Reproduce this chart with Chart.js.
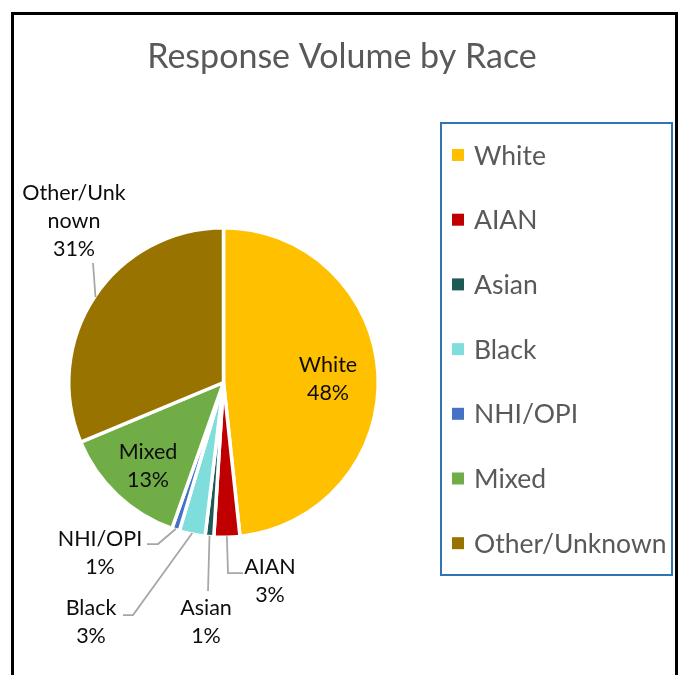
<!DOCTYPE html>
<html>
<head>
<meta charset="utf-8">
<script src="https://cdn.jsdelivr.net/npm/chart.js@4.4.1/dist/chart.umd.min.js"></script>
<style>
  html, body { margin: 0; padding: 0; background: #ffffff; }
  #wrap { width: 679px; height: 675px; }
</style>
</head>
<body>
<div id="wrap"><canvas id="c" width="679" height="675"></canvas></div>
<script>
// ---- data ----
const categories = ["White", "AIAN", "Asian", "Black", "NHI/OPI", "Mixed", "Other/Unknown"];
const shares = [48.3, 2.7, 0.9, 2.7, 0.8, 13.3, 31.3];
const sliceColors = ["#FFC000", "#C00000", "#1D5A55", "#7FDEDC", "#4472C4", "#70AD47", "#997300"];
const labelText = ["White", "AIAN", "Asian", "Black", "NHI/OPI", "Mixed", "Other/Unk\nnown"];
const chartTitle = "Response Volume by Race";

// ---- styling / layout ----
const FONT = "Lato, 'Open Sans', sans-serif";
const labelLayout = [
  { x: 328, y: 365 },                                   // White (inside)
  { x: 270, y: 567, leader: [[228, 573], [243, 573]] }, // AIAN
  { x: 206, y: 608, leader: [[208, 591]] },             // Asian
  { x: 91,  y: 608, leader: [[133, 615], [123, 615]] }, // Black
  { x: 100, y: 539, leader: [[158, 544], [147, 544]] }, // NHI/OPI
  { x: 148, y: 452 },                                   // Mixed (inside)
  { x: 74,  y: 193, leader: [[93, 263]] }               // Other/Unknown
];

const framePlugin = {
  id: 'frame',
  beforeDraw(chart) {
    const ctx = chart.ctx;
    ctx.save();
    ctx.fillStyle = '#ffffff';
    ctx.fillRect(0, 0, chart.width, chart.height);
    ctx.strokeStyle = '#000000';
    ctx.lineWidth = 3;
    ctx.beginPath();
    ctx.moveTo(12.5, 680);
    ctx.lineTo(12.5, 13.5);
    ctx.lineTo(676.5, 13.5);
    ctx.lineTo(676.5, 680);
    ctx.stroke();
    // title
    ctx.fillStyle = '#595959';
    ctx.font = "34px " + FONT;
    ctx.textAlign = 'center';
    ctx.textBaseline = 'middle';
    ctx.fillText(chartTitle, 342, 57);
    ctx.restore();
  }
};

const labelsPlugin = {
  id: 'pieLabels',
  afterDatasetsDraw(chart) {
    const ctx = chart.ctx;
    const meta = chart.getDatasetMeta(0);
    const data = chart.data.datasets[0].data;
    const total = data.reduce((a, b) => a + b, 0);
    ctx.save();
    meta.data.forEach((arc, i) => {
      const lay = labelLayout[i];
      const p = arc.getProps(['x', 'y', 'startAngle', 'endAngle', 'outerRadius'], true);
      const mid = (p.startAngle + p.endAngle) / 2;
      if (lay.leader) {
        const ex = p.x + Math.cos(mid) * (p.outerRadius - 1);
        const ey = p.y + Math.sin(mid) * (p.outerRadius - 1);
        ctx.strokeStyle = '#A6A6A6';
        ctx.lineWidth = 1.75;
        ctx.beginPath();
        ctx.moveTo(ex, ey);
        lay.leader.forEach(pt => ctx.lineTo(pt[0], pt[1]));
        ctx.stroke();
      }
      const pct = Math.round(data[i] / total * 100) + '%';
      const lines = labelText[i].split('\n').concat([pct]);
      ctx.fillStyle = '#0D0D0D';
      ctx.font = "21.5px " + FONT;
      ctx.textAlign = 'center';
      ctx.textBaseline = 'middle';
      lines.forEach((t, k) => ctx.fillText(t, lay.x, lay.y + k * 28));
    });
    ctx.restore();
  }
};

const legendPlugin = {
  id: 'boxLegend',
  afterDraw(chart) {
    const ctx = chart.ctx;
    const ds = chart.data.datasets[0];
    ctx.save();
    ctx.strokeStyle = '#2E75B6';
    ctx.lineWidth = 2;
    ctx.strokeRect(441, 123, 231, 452);
    ctx.font = "26.5px " + FONT;
    ctx.textAlign = 'left';
    ctx.textBaseline = 'middle';
    chart.data.labels.forEach((lab, i) => {
      const cy = 155 + i * 64.7;
      ctx.fillStyle = ds.backgroundColor[i];
      ctx.fillRect(452, cy - 6, 12, 12);
      ctx.fillStyle = '#595959';
      ctx.fillText(lab, 474, cy + 1);
    });
    ctx.restore();
  }
};

new Chart(document.getElementById('c'), {
  type: 'pie',
  data: {
    labels: categories,
    datasets: [{
      data: shares,
      backgroundColor: sliceColors,
      borderColor: '#ffffff',
      borderWidth: 3.5
    }]
  },
  options: {
    responsive: false,
    animation: false,
    events: [],
    layout: { padding: { left: 67, right: 299, top: 226, bottom: 136 } },
    plugins: {
      legend: { display: false },
      title: { display: false },
      tooltip: { enabled: false }
    }
  },
  plugins: [framePlugin, labelsPlugin, legendPlugin]
});
</script>
</body>
</html>
